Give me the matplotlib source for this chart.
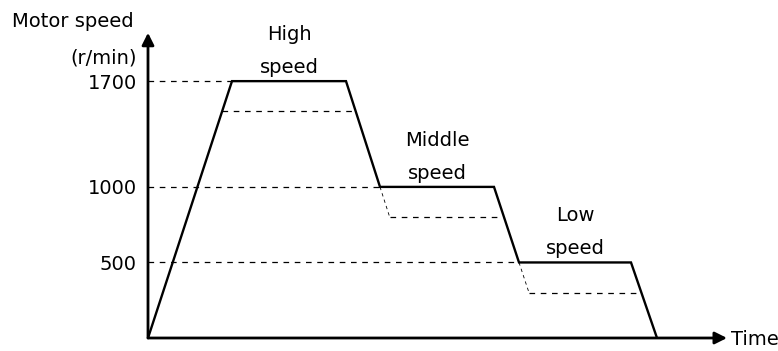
import numpy as np
import matplotlib.pyplot as plt

# speed profile (time in arbitrary units, speed in r/min)
time_pts = [0, 84, 198, 232, 346, 371, 483, 509]
speed_pts = [0, 1700, 1700, 1000, 1000, 500, 500, 0]
speed_levels = [1700, 1000, 500]
lower_levels = [1500, 800, 300]
stage_names = ['High', 'Middle', 'Low']

PX = 0.72  # points per pixel at dpi 100
FS = 14


def t_at(seg, v):
    # time where segment seg (between point seg and seg+1) reaches speed v
    t0, t1 = time_pts[seg], time_pts[seg + 1]
    v0, v1 = speed_pts[seg], speed_pts[seg + 1]
    return t0 + (v - v0) * (t1 - t0) / (v1 - v0)


fig = plt.figure(figsize=(7.78, 3.51), dpi=100)
ax = fig.add_axes([148 / 778, 13 / 351, 630 / 778, 338 / 351])
ax.set_xlim(0, 630)
ax.set_ylim(0, 2237)
for s in ax.spines.values():
    s.set_visible(False)
ax.set_xticks([])
ax.set_yticks(speed_levels)
ax.set_yticklabels([str(v) for v in speed_levels])
ax.tick_params(axis='y', length=0, pad=8, labelsize=FS)

dash = (0, (4.5, 4.5))
small_dash = (0, (4, 4))

# reference lines from the speed axis to the start of each plateau
for i, v in enumerate(speed_levels):
    t_start = time_pts[2 * i + 1]
    ax.plot([0, t_start], [v, v], color='black', lw=0.9, linestyle=dash)

# lower-speed alternative (high)
ax.plot([t_at(0, lower_levels[0]), t_at(2, lower_levels[0])],
        [lower_levels[0], lower_levels[0]], color='black', lw=0.9, linestyle=dash)

# lower-speed alternatives (middle, low): extend deceleration, then hold
for i in (1, 2):
    seg_in = 2 * i       # deceleration into this plateau
    seg_out = 2 * i + 2  # deceleration out of this plateau
    v_hi, v_lo = speed_levels[i], lower_levels[i]
    t_knee = t_at(seg_in, v_lo)
    ax.plot([time_pts[seg_in + 1], t_knee], [v_hi, v_lo],
            color='black', lw=0.6, linestyle=small_dash)
    ax.plot([t_knee, t_at(seg_out, v_lo)], [v_lo, v_lo],
            color='black', lw=0.9, linestyle=dash)

# main speed profile
ax.plot(time_pts, speed_pts, color='black', lw=1.7, solid_joinstyle='miter')

# axes with arrows
arrow = dict(arrowstyle='-|>,head_length=0.6,head_width=0.3', color='black',
             lw=2, mutation_scale=12, shrinkA=0, shrinkB=0)
ax.annotate('', xy=(0, 2020), xytext=(0, 0), arrowprops=arrow, annotation_clip=False)
ax.annotate('', xy=(579, 0), xytext=(0, 0), arrowprops=arrow, annotation_clip=False)
ax.annotate('Time', xy=(579, 0), xytext=(4 * PX, -7 * PX), textcoords='offset points',
            ha='left', va='baseline', fontsize=FS, annotation_clip=False)

# plateau labels
for i, name in enumerate(stage_names):
    tc = (time_pts[2 * i + 1] + time_pts[2 * i + 2]) / 2
    v = speed_levels[i]
    ax.annotate('speed', xy=(tc, v), xytext=(0, 8 * PX), textcoords='offset points',
                ha='center', va='baseline', fontsize=FS)
    ax.annotate(name, xy=(tc, v), xytext=(0, 41 * PX), textcoords='offset points',
                ha='center', va='baseline', fontsize=FS, annotation_clip=False)

fig.text(12 / 778, 1 - 27 / 351, 'Motor speed', ha='left', va='baseline', fontsize=FS)
fig.text(137 / 778, 1 - 63 / 351, '(r/min)', ha='right', va='baseline', fontsize=FS)

fig.savefig('out.png', dpi=100)
